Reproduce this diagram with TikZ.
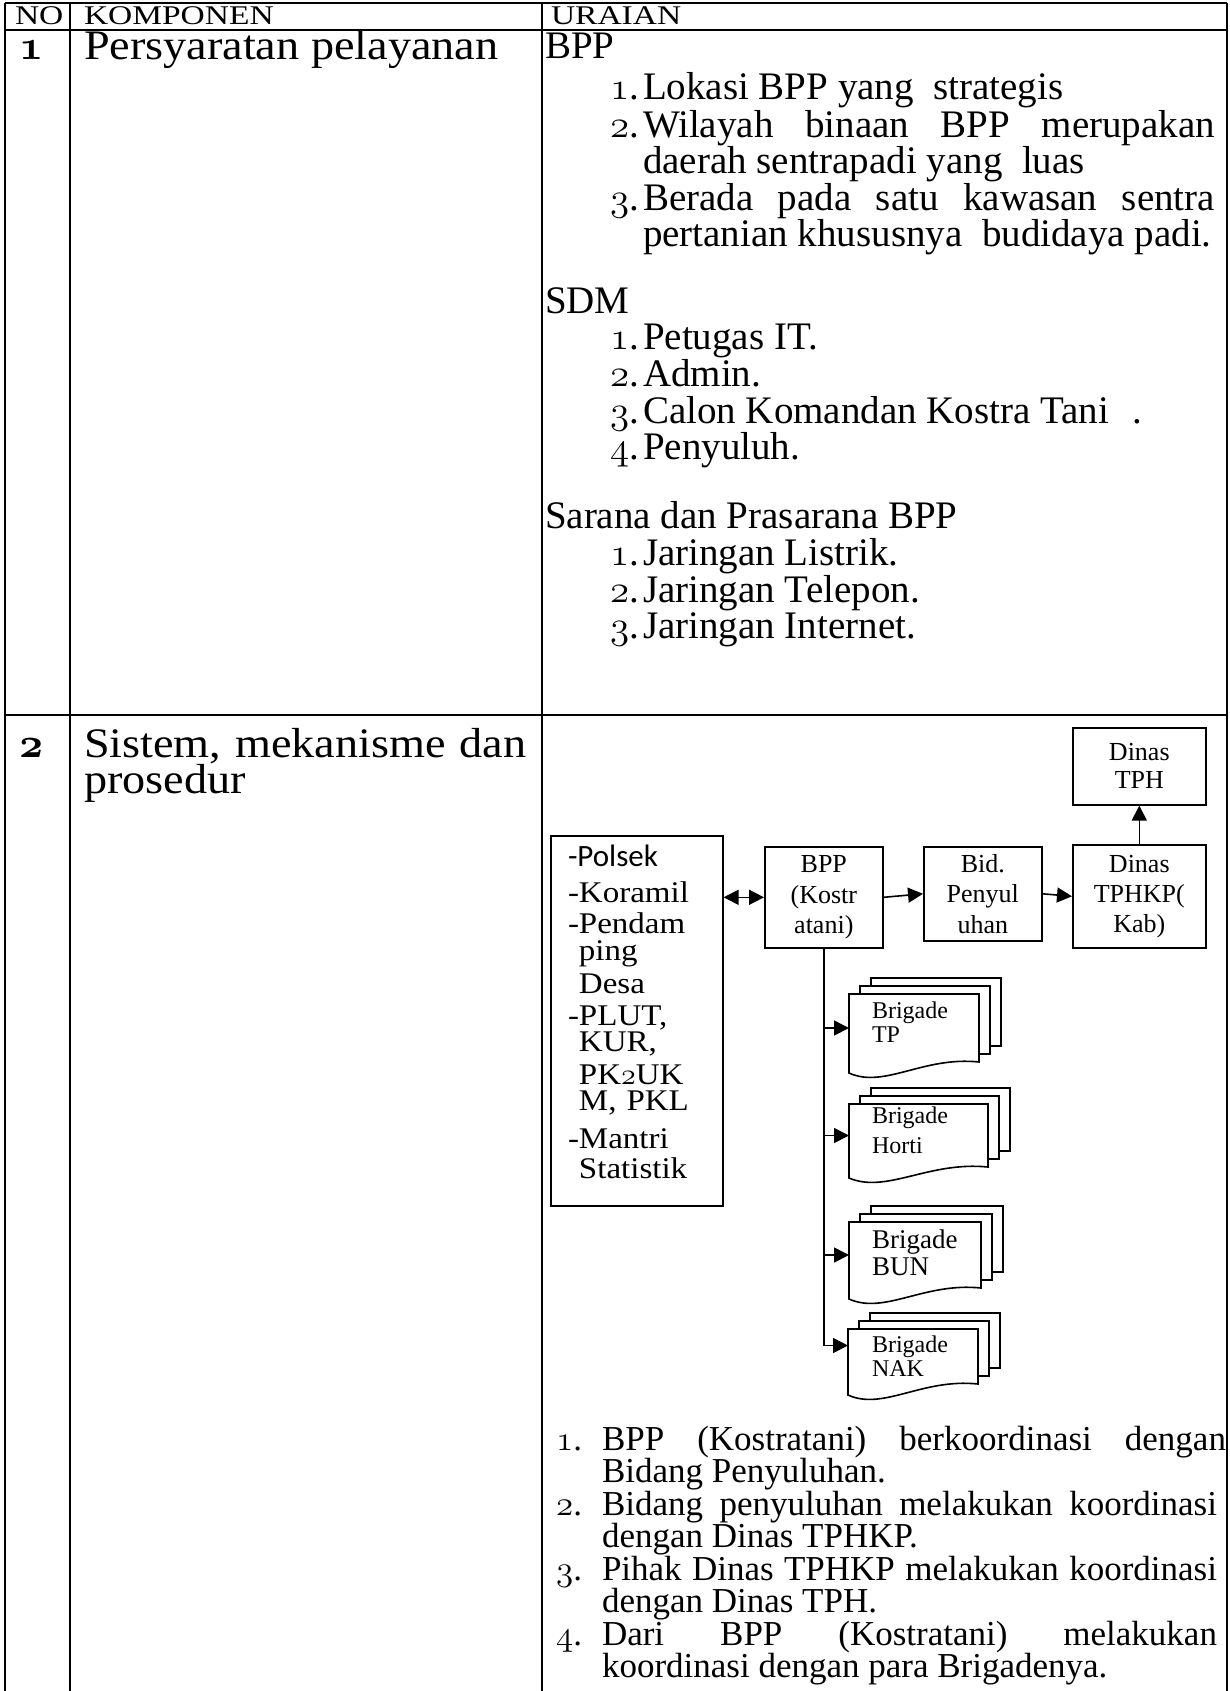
\RequirePackage{fix-cm}
\documentclass[tikz,border=0pt]{standalone}
\usepackage{fontspec}
\setmainfont{Liberation Serif}
\newfontfamily\wide[FakeStretch=1.1]{Liberation Serif}
\newfontfamily\hwide[FakeStretch=1.24]{Liberation Serif}
\newfontfamily\calibri{Carlito}
\usetikzlibrary{arrows.meta}
% old-style figures taken from the CM math italic font
\newcommand\ofig[1]{{\usefont{OML}{cmm}{m}{it}#1}}
\newcommand\bfig[1]{{\usefont{OML}{cmm}{b}{it}#1}}
\newcommand\fs[2]{\fontsize{#1}{#2}\selectfont}
% a stack of three documents with a wavy bottom edge
\newcommand\brigade[5]{%
  \draw[doc] ({#2+22},{#3-16}) rectangle ++(#4,#5);
  \draw[doc] ({#2+11},{#3-8}) rectangle ++(#4,#5);
  \draw[doc] (#2,#3) -- ++(#4,0) -- ++(0,#5)
    .. controls ({#2+0.57*#4},{#3+#5-6}) and ({#2+0.27*#4},{#3+#5+27}) .. ({#2},{#3+#5+11}) -- cycle;
  \node[inner sep=0pt, outer sep=0pt, minimum width=#4pt, minimum height=#5pt, anchor=north west] (#1) at (#2,#3) {};
}
\tikzset{
  tl/.style={anchor=base west, inner sep=0pt, outer sep=0pt},
  tr/.style={anchor=base east, inner sep=0pt, outer sep=0pt},
  grid/.style={line width=2.4pt},
  box/.style={draw, line width=1.6pt, align=center, inner sep=0pt, font=\fs{26}{30.5}},
  doc/.style={draw, fill=white, line width=1.6pt, line join=miter},
  conn/.style={line width=1.6pt},
  tip/.tip={Triangle[length=15pt,width=15pt]},
  arr/.style={line width=1.6pt, -tip},
  dbl/.style={line width=1.6pt, tip-tip},
  hdr/.style={tl, font=\hwide\fs{27}{30}},
  big/.style={tl, font=\wide\fs{42}{29}, align=left},
  lst/.style={tl, font=\fs{39}{43}},
  lnum/.style={tr, font=\fs{39}{43}},
  lst2/.style={tl, font=\fs{35}{39}},
  lnum2/.style={tr, font=\fs{35}{39}},
  brg/.style={tl, font=\fs{24}{28}},
}
\begin{document}
\begin{tikzpicture}[x=1pt, y=-1pt]
\useasboundingbox[fill=white] (0,0) rectangle (1229,1691);

% table rules
\draw[grid] (5,3) -- (1227,3);
\draw[grid] (5,30) -- (1227,30);
\draw[grid] (5,715) -- (1227,715);
\draw[grid] (5,3) -- (5,1700);
\draw[grid] (70,3) -- (70,1700);
\draw[grid] (542,3) -- (542,1700);
\draw[grid] (1227,3) -- (1227,1700);

% header row
\node[hdr] (hno) at (15,24.5) {NO};
\node[hdr] (hkomp) at (84,24.5) {KOMPONEN};
\node[hdr] (hurai) at (551,24.5) {URAIAN};

% row 1
\node[big] (no1) at (19,60) {\bfig{1}};
\node[big] (komp1) at (84,60) {Persyaratan pelayanan};

\node[lst] (bpp0) at (545,59) {BPP};
\node[lnum] (a1n) at (639,100) {\ofig{1}.};
\node[lst] (a1) at (643,100) {Lokasi BPP yang\ \ strategis};
\node[lnum] (a2n) at (639,137) {\ofig{2}.};
\node[lst] (a2) at (643,137) {\makebox[572pt][s]{Wilayah binaan BPP merupakan}};
\node[lst] (a2b) at (643,173) {daerah sentrapadi yang\ \ luas};
\node[lnum] (a3n) at (639,210) {\ofig{3}.};
\node[lst] (a3) at (643,210) {\makebox[572pt][s]{Berada pada satu kawasan sentra}};
\node[lst] (a3b) at (643,246) {pertanian khususnya\ \ budidaya padi.};

\node[lst] (sdm0) at (545,313) {SDM};
\node[lnum] (b1n) at (639,349) {\ofig{1}.};
\node[lst] (b1) at (643,349) {Petugas IT.};
\node[lnum] (b2n) at (639,386) {\ofig{2}.};
\node[lst] (b2) at (643,386) {Admin.};
\node[lnum] (b3n) at (639,423) {\ofig{3}.};
\node[lst] (b3) at (643,423) {Calon Komandan Kostra Tani\hspace{0.6em}.};
\node[lnum] (b4n) at (639,459) {\ofig{4}.};
\node[lst] (b4) at (643,459) {Penyuluh.};

\node[lst] (sar0) at (545,528) {Sarana dan Prasarana BPP};
\node[lnum] (c1n) at (639,565) {\ofig{1}.};
\node[lst] (c1) at (643,565) {Jaringan Listrik.};
\node[lnum] (c2n) at (639,602) {\ofig{2}.};
\node[lst] (c2) at (643,602) {Jaringan Telepon.};
\node[lnum] (c3n) at (639,638) {\ofig{3}.};
\node[lst] (c3) at (643,638) {Jaringan Internet.};

% row 2
\node[big] (no2) at (19,757) {\bfig{2}};
\node[big, text width=450pt] (komp2) at (84,757) {Sistem, mekanisme dan\\prosedur};

% coordination chart
\node[box, minimum width=172pt, minimum height=370pt, anchor=north west] (lbox) at (550,835) {};
\node[tl, text width=150pt, align=left, font=\wide\fs{30}{30}] (mitra) at (568,866)
  {{\calibri\fs{31}{30}-Polsek}\\[6pt]
   -Koramil\\[1pt]
   -Pendam\\[-3pt]
   \hphantom{-}ping\\[3pt]
   \hphantom{-}Desa\\[2pt]
   -PLUT,\\[-4pt]
   \hphantom{-}KUR,\\[3pt]
   \hphantom{-}PK\ofig{2}UK\\[-4pt]
   \hphantom{-}M, PKL\\[8pt]
   -Mantri\\
   \hphantom{-}Statistik};

\node[box, minimum width=118pt, minimum height=101pt, anchor=north west] (bpp) at (764,846) {BPP\\(Kostr\\atani)};
\node[box, minimum width=118pt, minimum height=94pt, anchor=north west] (bid) at (923,846) {Bid.\\Penyul\\uhan};
\node[box, minimum width=133pt, minimum height=103pt, anchor=north west, font=\fs{26}{30}] (tphkp) at (1072,844) {Dinas\\TPHKP(\\Kab)};
\node[box, minimum width=133pt, minimum height=77pt, anchor=north west, font=\fs{26}{28}] (tph) at (1072,727) {Dinas\\TPH};

\draw[dbl] (bpp.west -| lbox.east) -- (bpp.west);
\draw[arr] (bpp.east) -- (bid.west);
\draw[arr] (bid.east) -- (tphkp.west);
\draw[arr] (tphkp.north) -- (tph.south);

\brigade{tp}{849}{994}{130}{68}
\brigade{horti}{849}{1104}{139}{63}
\brigade{bun}{849}{1222}{132}{66}
\brigade{nak}{848}{1329}{130}{55}

\node[brg] (tpa) at (872,1018) {Brigade};
\node[brg] (tpb) at (872,1042) {TP};
\node[brg] (hoa) at (872,1123) {Brigade};
\node[brg] (hob) at (872,1153) {Horti};
\node[brg, font=\fs{27}{30}] (bua) at (872,1248) {Brigade};
\node[brg, font=\fs{27}{30}] (bub) at (872,1275) {BUN};
\node[brg] (naa) at (872,1352) {Brigade};
\node[brg] (nab) at (872,1376) {NAK};

\coordinate (nakin) at ([yshift=11pt]nak.west);
\draw[conn] (bpp.south) -- (bpp.south |- nakin);
\draw[arr] (bpp.south |- tp.west) -- (tp.west);
\draw[arr] (bpp.south |- horti.west) -- (horti.west);
\draw[arr] (bpp.south |- bun.west) -- (bun.west);
\draw[arr] (bpp.south |- nakin) -- (nakin);

% explanation of the chart
\node[lnum2] (d1n) at (582,1450) {\ofig{1}.};
\node[lst2] (d1) at (602,1450) {\makebox[624pt][s]{BPP (Kostratani) berkoordinasi dengan}};
\node[lst2] (d1b) at (602,1482.5) {Bidang Penyuluhan.};
\node[lnum2] (d2n) at (582,1515) {\ofig{2}.};
\node[lst2] (d2) at (602,1515) {\makebox[615pt][s]{Bidang penyuluhan melakukan koordinasi}};
\node[lst2] (d2b) at (602,1547.5) {dengan Dinas TPHKP.};
\node[lnum2] (d3n) at (582,1580) {\ofig{3}.};
\node[lst2] (d3) at (602,1580) {\makebox[615pt][s]{Pihak Dinas TPHKP melakukan koordinasi}};
\node[lst2] (d3b) at (602,1612.5) {dengan Dinas TPH.};
\node[lnum2] (d4n) at (582,1645) {\ofig{4}.};
\node[lst2] (d4) at (602,1645) {\makebox[615pt][s]{Dari BPP (Kostratani) melakukan}};
\node[lst2] (d4b) at (602,1677.5) {koordinasi dengan para Brigadenya.};
\end{tikzpicture}
\end{document}
